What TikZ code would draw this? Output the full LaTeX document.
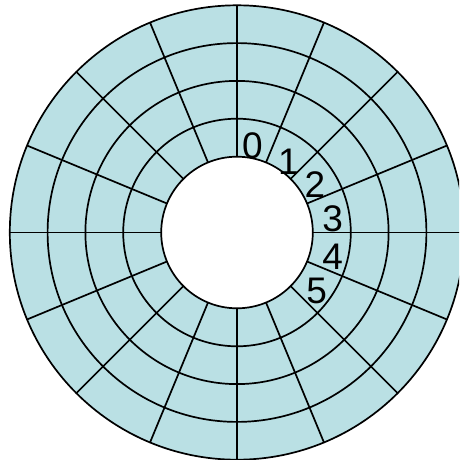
\documentclass[tikz,border=0pt]{standalone}
\usepackage{fontspec}
\setmainfont{Liberation Sans}
\usetikzlibrary{calc}
\definecolor{diskblue}{RGB}{186,224,228}
\begin{document}
\begin{tikzpicture}[x=1pt,y=-1pt,
  ringline/.style={draw=black,line width=1.7pt},
  lbl/.style={font=\fontsize{37}{37}\selectfont,inner sep=0pt}]
\useasboundingbox (0,0) rectangle (459,460);
\clip (0,0) rectangle (459,460);
\coordinate (c) at (237,232.5);
% disk fill
\fill[diskblue] (c) circle[radius=227.2];
% rings
\foreach \r in {227.2,189.4,151.6,113.8}
  \draw[ringline] (c) circle[radius=\r];
% spokes
\foreach \a in {0,22.5,...,337.5}
  \draw[ringline] ($(c)+(\a:75.8)$) -- ($(c)+(\a:227.2)$);
% hole
\filldraw[fill=white,draw=black,line width=1.7pt] (c) circle[radius=75.8];
% labels
\node[lbl] (l0) at (252.3,145.5) {0};
\node[lbl] (l1) at (288.3,162) {1};
\node[lbl] (l2) at (315,184.5) {2};
\node[lbl] (l3) at (332.7,219) {3};
\node[lbl] (l4) at (332.7,257) {4};
\node[lbl] (l5) at (316.7,290.5) {5};
\end{tikzpicture}
\end{document}
